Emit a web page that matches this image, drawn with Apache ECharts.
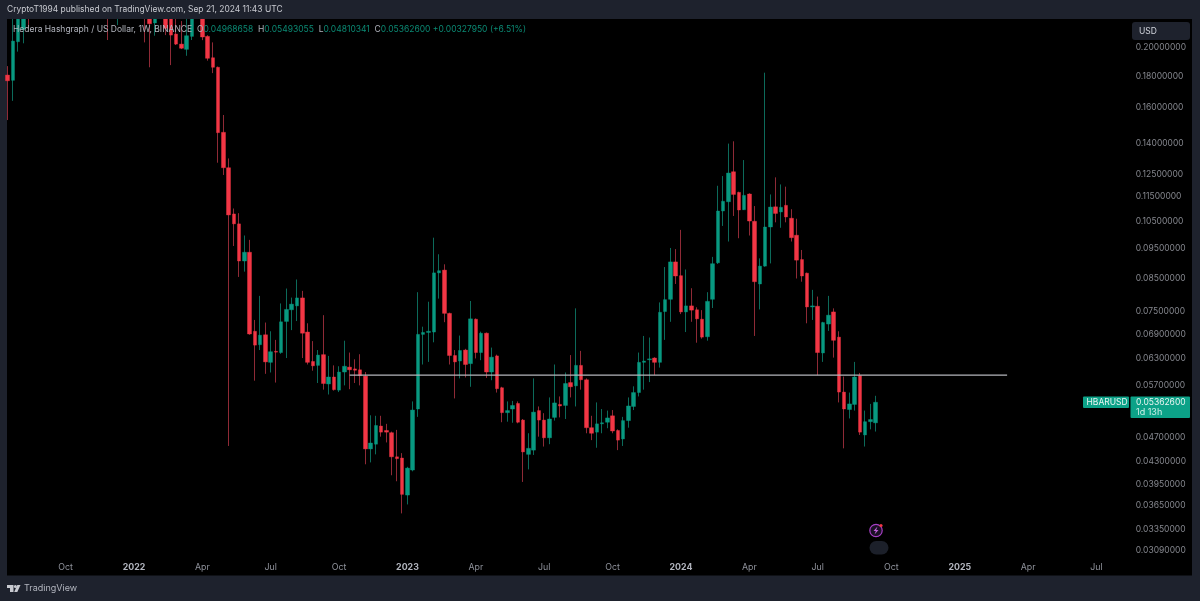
<!DOCTYPE html>
<html>
<head>
<meta charset="utf-8">
<style>html,body{margin:0;padding:0;background:#1e222d}#chart{width:1200px;height:601px}</style>
<script src="https://cdn.jsdelivr.net/npm/echarts@6/dist/echarts.min.js"></script>
</head>
<body>
<div id="chart"></div>
<script>
// weekly HBARUSD, index 0 is the week of 2021-07-19. Weeks 5-29 mostly sit above the visible range.
var opens = [
  .1807,.1772,.2045,.2142,.2400,.2300,.2600,.2800,.3100,.2900,
  .2700,.3000,.3500,.3800,.4200,.3900,.3500,.3100,.2900,.2700,
  .2450,.2400,.2600,.2800,.3000,.2800,.2600,.2400,.2192,.2320,
  .2400,.2300,.2104,.2027,.1988,.2086,.2300,.2280,.2086,.1927,
  .1860,.1461,.1281,.1079,.1040,.0906,.0936,.0698,.0664,.0689,
  .0622,.0648,.0645,.0724,.0756,.0767,.0790,.0696,.0624,.0615,
  .0640,.0574,.0589,.0561,.0600,.0611,.0607,.0605,.0591,.0451,
  .0459,.0491,.0483,.0479,.0438,.0436,.0380,
  .0417,.0523,.0690,.0695,.0696,.0867,.0876,.0746,.0638,.0625,
  .0651,.0619,.0730,.0645,.0693,.0600,.0637,.0566,.0516,.0523,
  .0534,.0502,.0442,.0449,.0520,.0502,.0470,.0507,.0532,.0530,
  .0577,.0570,.0615,.0583,.0488,.0480,.0495,.0498,.0510,.0483,
  .0468,.0501,.0528,.0556,.0622,.0628,.0632,.0622,.0751,.0786,
  .0903,.0858,.0750,.0767,.0756,.0730,.0684,.0786,.0900,.1091,
  .1129,.1262,.1169,.1096,.1162,.1050,.0832,.0889,.1028,.1108,
  .1087,.1114,.1062,.0997,.0911,.0866,.0764,.0766,.0644,.0717,
  .0750,.0683,.0557,.0522,.0532,.0592,.0475,.0499,.04968658
];
var closes = [
  .1769,.2050,.2250,.2300,.2300,.2600,.2800,.3100,.2900,.2700,
  .3000,.3500,.3800,.4200,.3900,.3500,.3100,.2900,.2700,.2450,
  .2600,.2600,.2800,.3000,.2800,.2600,.2400,.2186,.2320,.2400,
  .2149,.2096,.2027,.1996,.2091,.2300,.2350,.2081,.1923,.1860,
  .1459,.1281,.1075,.1040,.0906,.0936,.0691,.0663,.0688,.0623,
  .0647,.0646,.0723,.0757,.0772,.0790,.0693,.0622,.0614,.0639,
  .0575,.0589,.0562,.0600,.0613,.0605,.0604,.0592,.0451,.0461,
  .0492,.0480,.0480,.0438,.0435,.0381,.0420,
  .0521,.0690,.0695,.0698,.0867,.0874,.0746,.0638,.0623,.0650,
  .0617,.0731,.0645,.0693,.0600,.0634,.0564,.0516,.0520,.0530,
  .0498,.0446,.0452,.0517,.0502,.0470,.0504,.0535,.0529,.0575,
  .0568,.0615,.0583,.0488,.0478,.0495,.0497,.0506,.0482,.0466,
  .0501,.0529,.0556,.0622,.0625,.0630,.0622,.0749,.0785,.0903,
  .0857,.0750,.0767,.0755,.0731,.0683,.0780,.0897,.1091,.1131,
  .1256,.1160,.1095,.1156,.1051,.0839,.0889,.1028,.1107,.1081,
  .1106,.1067,.0988,.0909,.0857,.0764,.0767,.0645,.0721,.0741,
  .0675,.0557,.0523,.0533,.0589,.0480,.0499,.0503,.05362600
];
var lows = [
  .1529,.1642,.1971,.2033,.2149,.2250,.2400,.2600,.2700,.2450,
  .2550,.2900,.3300,.3600,.3600,.3200,.2800,.2600,.2350,.2058,
  .2300,.2175,.2450,.2650,.2500,.2400,.2040,.1860,.2091,.2250,
  .2096,.1875,.2020,.1990,.1941,.2058,.2240,.2057,.1906,.1820,
  .1305,.1247,.0456,.0958,.0854,.0871,.0689,.0581,.0651,.0596,
  .0599,.0577,.0642,.0632,.0701,.0725,.0632,.0617,.0603,.0576,
  .0562,.0552,.0560,.0557,.0571,.0563,.0576,.0571,.0426,.0429,
  .0442,.0472,.0462,.0409,.0400,.0355,.0367,
  .0415,.0508,.0617,.0623,.0670,.0788,.0722,.0617,.0544,.0586,
  .0588,.0568,.0631,.0627,.0587,.0582,.0556,.0498,.0499,.0497,
  .0496,.0399,.0418,.0441,.0472,.0455,.0459,.0501,.0507,.0504,
  .0546,.0528,.0562,.0478,.0466,.0453,.0478,.0487,.0478,.0449,
  .0456,.0488,.0521,.0548,.0562,.0578,.0593,.0610,.0676,.0723,
  .0832,.0744,.0696,.0723,.0669,.0679,.0674,.0761,.0896,.1032,
  .0974,.1071,.0986,.1095,.0996,.0686,.0757,.0887,.0898,.1046,
  .1025,.1046,.0974,.0849,.0839,.0719,.0728,.0593,.0623,.0699,
  .0633,.0536,.0452,.0505,.0520,.0475,.0455,.0485,.04810341
];
var highs = [
  .1868,.2300,.2400,.2450,.2550,.2800,.3000,.3400,.3300,.3100,
  .3200,.3700,.4100,.4600,.4400,.4100,.3700,.3300,.3000,.2850,
  .2750,.2700,.2950,.3100,.3150,.2900,.2700,.2500,.2400,.2500,
  .2450,.2350,.2250,.2208,.2250,.2400,.2450,.2300,.2095,.2040,
  .1865,.1558,.1326,.1101,.1082,.0996,.0980,.0728,.0796,.0721,
  .0698,.0676,.0774,.0818,.0791,.0846,.0811,.0719,.0673,.0651,
  .0741,.0637,.0615,.0613,.0674,.0645,.0629,.0641,.0600,.0511,
  .0510,.0510,.0495,.0481,.0484,.0444,.0422,
  .0538,.0807,.0710,.0779,.0988,.0929,.0895,.0748,.0651,.0687,
  .0654,.0781,.0732,.0697,.0695,.0657,.0640,.0568,.0538,.0539,
  .0538,.0504,.0478,.0586,.0528,.0515,.0546,.0617,.0548,.0599,
  .0639,.0760,.0649,.0586,.0510,.0536,.0523,.0520,.0521,.0485,
  .0508,.0546,.0569,.0645,.0686,.0682,.0634,.0777,.0886,.0951,
  .0947,.1017,.0878,.0819,.0763,.0755,.0807,.0920,.1198,.1242,
  .1401,.1413,.1172,.1318,.1165,.1111,.0915,.1823,.1160,.1236,
  .1204,.1194,.1098,.1060,.0944,.0868,.0814,.0794,.0723,.0796,
  .0760,.0698,.0590,.0556,.0623,.0598,.0520,.0533,.05493055
];
var priceTicks = [.2,.18,.16,.14,.125,.115,.105,.095,.085,.075,.069,.063,.057,.051,.047,.043,.0395,.0365,.0335,.0309];
var timeTicks = {
  11:'Oct',24:'2022',37:'Apr',50:'Jul',63:'Oct',76:'2023',89:'Apr',102:'Jul',
  115:'Oct',128:'2024',141:'Apr',154:'Jul',168:'Oct',181:'2025',194:'Apr',207:'Jul'
};
var levelPrice = .0593, levelFrom = 65, levelTo = 190;
var totalWeeks = 214;

var UP = '#089981', DOWN = '#f23645', UP_WICK = '#0c6a5a', DOWN_WICK = '#8f2a36';

var weeks = [];
for (var i = 0; i < totalWeeks; i++) {
  weeks.push(i);
}
var wickData = [], bodyData = [];
for (var i = 0; i < opens.length; i++) {
  wickData.push([opens[i], closes[i], lows[i], highs[i]]);
  bodyData.push([opens[i], closes[i], Math.min(opens[i], closes[i]), Math.max(opens[i], closes[i])]);
}

var myChart = echarts.init(document.getElementById('chart'), null, {renderer: 'canvas'});
var font = 'Inter';
var option = {
  animation: false,
  backgroundColor: '#1e222d',
  textStyle: {fontFamily: font},
  title: [
    {left: 7, top: 5, padding: 0, text: 'CryptoT1994 published on TradingView.com, Sep 21, 2024 11:43 UTC',
      textStyle: {color: '#c8cad0', fontSize: 8.45, fontWeight: 'normal', fontFamily: font}},
    {left: 13, top: 25, padding: 0, text: '{n|Hedera Hashgraph / US Dollar, 1W, BINANCE}  {n|O}{v|0.04968658}  {n|H}{v|0.05493055}  {n|L}{v|0.04810341}  {n|C}{v|0.05362600} {v|+0.00327950 (+6.51%)}',
      textStyle: {fontSize: 8.5, fontWeight: 'normal', fontFamily: font,
        rich: {n: {color: '#b2b5be', fontSize: 8.5, fontFamily: font}, v: {color: '#0b8a74', fontSize: 8.5, fontFamily: font}}}}
  ],
  grid: {left: 5.07, top: 19, width: 1125.64, height: 536},
  xAxis: {
    type: 'category',
    data: weeks,
    axisLine: {show: false},
    axisTick: {show: false},
    splitLine: {show: false},
    axisLabel: {
      margin: 8,
      fontSize: 8.8,
      color: '#8f929b',
      fontFamily: font,
      hideOverlap: false,
      interval: function (i) { return timeTicks[i] !== undefined; },
      formatter: function (v) {
        var t = timeTicks[v];
        return t && t.length === 4 ? '{y|' + t + '}' : t;
      },
      rich: {y: {fontWeight: 'bold', color: '#b2b5be', fontSize: 8.8, fontFamily: font}}
    }
  },
  yAxis: {
    type: 'log',
    logBase: 10,
    position: 'right',
    min: .03042,
    max: .2225,
    axisLine: {show: false},
    axisTick: {show: false},
    splitLine: {show: false},
    axisLabel: {
      margin: 5,
      padding: [2, 0, 0, 0],
      fontSize: 8.5,
      color: '#85878e',
      fontFamily: font,
      customValues: priceTicks,
      formatter: function (v) { return Number(v).toFixed(8); }
    }
  },
  series: [
    {
      type: 'candlestick',
      data: wickData,
      barWidth: 1,
      clip: true,
      silent: true,
      itemStyle: {color: UP_WICK, color0: DOWN_WICK, borderColor: UP_WICK, borderColor0: DOWN_WICK, borderWidth: 1}
    },
    {
      type: 'candlestick',
      data: bodyData,
      barWidth: 4,
      clip: true,
      silent: true,
      itemStyle: {color: UP, color0: DOWN, borderColor: UP, borderColor0: DOWN, borderWidth: 0.4}
    },
    {
      type: 'line',
      data: [[levelFrom, levelPrice], [levelTo, levelPrice]],
      symbol: 'none',
      silent: true,
      lineStyle: {color: '#b4b6bb', width: 1.2}
    }
  ],
  graphic: [
    // black chart pane
    {type: 'rect', z: -10, shape: {x: 7, y: 19, width: 1185, height: 556.5}, style: {fill: '#000'}, silent: true},
    // header band, hides candles that run above the pane
    {type: 'rect', z: 5, shape: {x: 0, y: 0, width: 1200, height: 19}, style: {fill: '#1e222d'}, silent: true},
    // currency button
    {type: 'rect', z: 10, shape: {x: 1132, y: 22, width: 58, height: 18, r: 3}, style: {fill: '#1e222d'}},
    {type: 'text', z: 11, x: 1139, y: 26.5, style: {text: 'USD', fill: '#d1d4dc', fontSize: 8.5, fontFamily: font}},
    // last price tags
    {type: 'rect', z: 10, shape: {x: 1083, y: 396.5, width: 46, height: 11.5, r: 1}, style: {fill: '#0ca288'}},
    {type: 'text', z: 11, x: 1086.5, y: 398, style: {text: 'HBARUSD', fill: '#e8f5f2', fontSize: 8.5, fontFamily: font}},
    {type: 'rect', z: 10, shape: {x: 1130.5, y: 396.5, width: 59.5, height: 21.5, r: 1}, style: {fill: '#0ca288'}},
    {type: 'text', z: 11, x: 1136, y: 398, style: {text: '0.05362600', fill: '#e8f5f2', fontSize: 8.5, fontFamily: font}},
    {type: 'text', z: 11, x: 1136, y: 407.5, style: {text: '1d 13h', fill: '#cdeee7', fontSize: 9, fontFamily: font}},
    // idea marker and pill under it
    {type: 'circle', z: 10, shape: {cx: 876, cy: 530.5, r: 6.2}, style: {fill: '#1a1024', stroke: '#a63fc4', lineWidth: 1.2}},
    {type: 'polygon', z: 11, shape: {points: [[877.5,526.5],[873.5,531],[875.8,531],[874.5,534.5],[878.5,530],[876.2,530]]}, style: {fill: '#c060d8'}},
    {type: 'circle', z: 12, shape: {cx: 881, cy: 525.5, r: 1.6}, style: {fill: '#f23645'}},
    {type: 'rect', z: 10, shape: {x: 869.5, y: 541, width: 19, height: 13.5, r: 6.7}, style: {fill: '#1c202a'}},
    // footer logo
    {type: 'polygon', z: 10, shape: {points: [[7,585],[13.5,585],[13.5,592],[10,592],[10,588],[7,588]]}, style: {fill: '#c8cad0'}},
    {type: 'circle', z: 10, shape: {cx: 15.4, cy: 586.5, r: 1.5}, style: {fill: '#c8cad0'}},
    {type: 'polygon', z: 10, shape: {points: [[17.3,585],[20.5,585],[17.3,592],[14.2,592]]}, style: {fill: '#c8cad0'}},
    {type: 'text', z: 10, x: 24, y: 584, style: {text: 'TradingView', fill: '#b2b5be', fontSize: 9, fontFamily: font}}
  ]
};
myChart.setOption(option);
</script>
</body>
</html>
